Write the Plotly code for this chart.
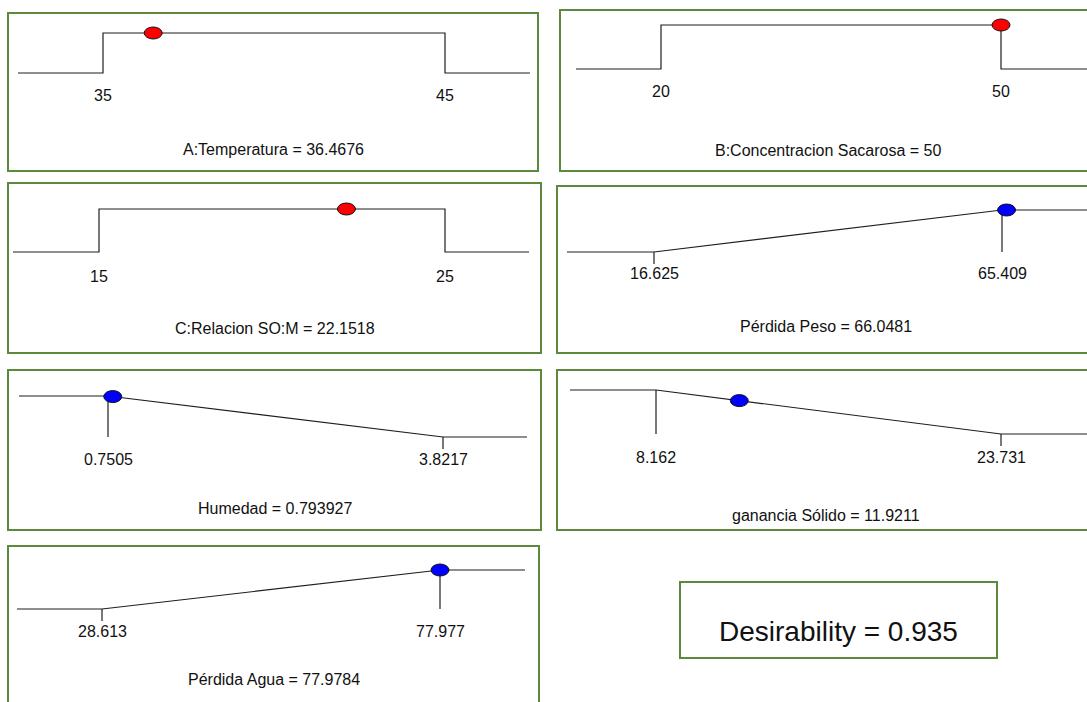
import plotly.graph_objects as go

W, H = 1087, 702

# Factors and responses of the numerical optimisation
names = ["A:Temperatura", "B:Concentracion Sacarosa", "C:Relacion SO:M",
         "Pérdida Peso", "Humedad", "ganancia Sólido", "Pérdida Agua"]
lower = [35, 20, 15, 16.625, 0.7505, 8.162, 28.613]
upper = [45, 50, 25, 65.409, 3.8217, 23.731, 77.977]
lower_labels = ["35", "20", "15", "16.625", "0.7505", "8.162", "28.613"]
upper_labels = ["45", "50", "25", "65.409", "3.8217", "23.731", "77.977"]
optimum = [36.4676, 50, 22.1518, 66.0481, 0.793927, 11.9211, 77.9784]
optimum_labels = ["36.4676", "50", "22.1518", "66.0481", "0.793927", "11.9211", "77.9784"]
goals = ["range", "range", "range", "maximize", "minimize", "minimize", "maximize"]
is_factor = [True, True, True, False, False, False, False]
overall_desirability = "0.935"

# Panel geometry in pixels: frame box, desirability levels, limit positions,
# ramp extent, label row and caption row
panels = [
    dict(box=(8, 538, 13, 171), y1=33, y0=73, xa=103, xb=445, xs=18, xe=530, ly=96, ty=149),
    dict(box=(560, 1095, 10, 171), y1=25, y0=69, xa=661, xb=1001, xs=576, xe=1200, ly=92, ty=150),
    dict(box=(8, 541, 183, 353), y1=209, y0=252, xa=99, xb=445, xs=13, xe=529, ly=276, ty=328),
    dict(box=(557, 1095, 186, 353), y1=210, y0=252, xa=654, xb=1002, xs=567, xe=1200, ly=273, ty=326),
    dict(box=(8, 541, 370, 530), y1=396, y0=437, xa=108, xb=443, xs=19, xe=527, ly=459, ty=508),
    dict(box=(557, 1095, 370, 530), y1=390, y0=434, xa=656, xb=1001, xs=570, xe=1200, ly=457, ty=515),
    dict(box=(8, 539, 546, 712), y1=570, y0=609, xa=102, xb=440, xs=17, xe=525, ly=631, ty=679),
]
summary_box = (680, 997, 582, 658)

FRAME = "#5b8a3c"
INK = "#1e1e1e"
FONT = "Liberation Sans, Arial, sans-serif"


def desirability(v, lo, hi, goal):
    if goal == "range":
        return 1.0 if lo <= v <= hi else 0.0
    if goal == "maximize":
        return min(max((v - lo) / (hi - lo), 0.0), 1.0)
    return min(max((hi - v) / (hi - lo), 0.0), 1.0)


fig = go.Figure()
shapes, annotations = [], []

for i, p in enumerate(panels):
    n = i + 1
    xr = "x" if n == 1 else f"x{n}"
    yr = "y" if n == 1 else f"y{n}"
    lo, hi, goal = lower[i], upper[i], goals[i]
    bx0, bx1, by0, by1 = p["box"]
    dx0, dx1 = bx0, min(bx1, W)
    dy0, dy1 = by0, min(by1, H)

    # axis ranges so that limits and desirability levels land on the layout grid
    sx = (p["xb"] - p["xa"]) / (hi - lo)
    sy = p["y0"] - p["y1"]
    x_range = [lo - (p["xa"] - dx0) / sx, hi + (dx1 - p["xb"]) / sx]
    y_range = [-(dy1 - p["y0"]) / sy, 1 + (p["y1"] - dy0) / sy]
    ax = dict(visible=False, showgrid=False, zeroline=False, fixedrange=True)
    fig.update_layout(**{
        ("xaxis" if n == 1 else f"xaxis{n}"): dict(ax, domain=[dx0 / W, dx1 / W], range=x_range,
                                                  anchor=yr),
        ("yaxis" if n == 1 else f"yaxis{n}"): dict(ax, domain=[1 - dy1 / H, 1 - dy0 / H], range=y_range,
                                                  anchor=xr),
    })

    x_start = lo - (p["xa"] - p["xs"]) / sx
    x_end = hi + (p["xe"] - p["xb"]) / sx
    tick = 12 / sy

    if goal == "range":
        xs = [x_start, lo, lo, hi, hi, x_end]
        ys = [0, 0, 1, 1, 0, 0]
        extra = []
    elif goal == "maximize":
        xs = [x_start, lo, hi, x_end]
        ys = [0, 0, 1, 1]
        extra = [([hi, hi], [1, 0]), ([lo, lo], [0, -tick])]
    else:
        xs = [x_start, lo, hi, x_end]
        ys = [1, 1, 0, 0]
        extra = [([lo, lo], [1, 0]), ([hi, hi], [0, -tick])]

    fig.add_trace(go.Scatter(x=xs, y=ys, mode="lines", xaxis=xr, yaxis=yr,
                             line=dict(color=INK, width=1.2), hoverinfo="skip", showlegend=False))
    for ex, ey in extra:
        fig.add_trace(go.Scatter(x=ex, y=ey, mode="lines", xaxis=xr, yaxis=yr,
                                 line=dict(color=INK, width=1.2), hoverinfo="skip", showlegend=False))

    # frame
    shapes.append(dict(type="rect", xref="paper", yref="paper",
                       x0=bx0 / W, x1=bx1 / W, y0=1 - by1 / H, y1=1 - by0 / H,
                       line=dict(color=FRAME, width=2), fillcolor="rgba(0,0,0,0)", layer="below"))

    # optimum marker
    d = desirability(optimum[i], lo, hi, goal)
    shapes.append(dict(type="circle", xref=xr, yref=yr, xsizemode="pixel", ysizemode="pixel",
                       xanchor=optimum[i], yanchor=d, x0=-9, x1=9, y0=-6, y1=6,
                       fillcolor="#ff0000" if is_factor[i] else "#0000ff",
                       line=dict(color="#111111", width=1)))

    # limit labels
    for val, txt in ((lo, lower_labels[i]), (hi, upper_labels[i])):
        annotations.append(dict(x=val, y=0, xref=xr, yref=yr, text=txt, showarrow=False,
                                xanchor="center", yanchor="middle", yshift=-(p["ly"] - p["y0"]),
                                font=dict(family=FONT, size=16, color="#111111")))

    # caption
    annotations.append(dict(x=(bx0 + bx1) / 2 / W, y=1 - p["ty"] / H, xref="paper", yref="paper",
                            text=f"{names[i]} = {optimum_labels[i]}", showarrow=False,
                            xanchor="center", yanchor="middle",
                            font=dict(family=FONT, size=16, color="#111111")))

# overall desirability box
sx0, sx1, sy0, sy1 = summary_box
shapes.append(dict(type="rect", xref="paper", yref="paper",
                   x0=sx0 / W, x1=sx1 / W, y0=1 - sy1 / H, y1=1 - sy0 / H,
                   line=dict(color=FRAME, width=2), fillcolor="rgba(0,0,0,0)"))
annotations.append(dict(x=(sx0 + sx1) / 2 / W, y=1 - 631 / H, xref="paper", yref="paper",
                        text=f"Desirability = {overall_desirability}", showarrow=False,
                        xanchor="center", yanchor="middle",
                        font=dict(family=FONT, size=28, color="#111111")))

fig.update_layout(width=W, height=H, margin=dict(l=0, r=0, t=0, b=0),
                  paper_bgcolor="white", plot_bgcolor="rgba(0,0,0,0)",
                  shapes=shapes, annotations=annotations, showlegend=False)

fig.write_html("out.html", config={"displayModeBar": False})
